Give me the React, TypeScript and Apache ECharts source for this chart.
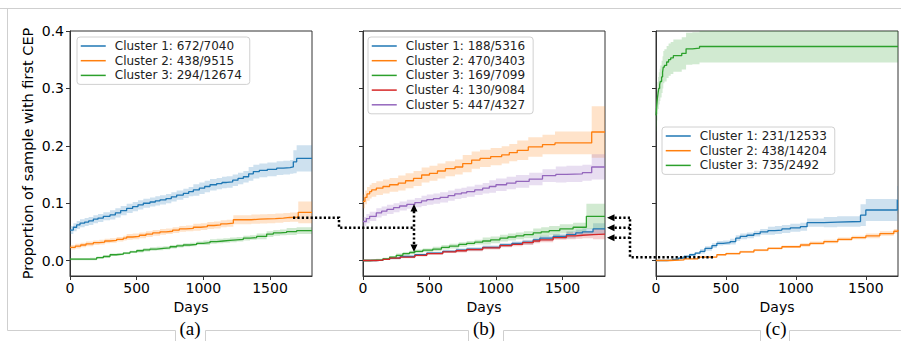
import React, { useEffect, useRef } from "react";
import * as echarts from "echarts";

// ---------- DATA ----------
const X_TICKS = [0, 500, 1000, 1500];
const Y_TICKS = [0, 0.1, 0.2, 0.3, 0.4];
const X_MAX = [1815, 1820, 1730];
const Y_MIN = -0.027;
const Y_MAX = 0.4;

// Panel (a)
const aNames = ["Cluster 1: 672/7040", "Cluster 2: 438/9515", "Cluster 3: 294/12674"];
const aDays1 = [0, 25, 50, 75, 110, 140, 175, 210, 250, 300, 340, 380, 425, 470, 510, 550, 600, 640, 675, 720, 760, 800, 850, 890, 925, 970, 1010, 1050, 1100, 1140, 1175, 1220, 1260, 1300, 1340, 1375, 1420, 1480, 1550, 1600, 1650, 1675, 1700, 1815];
const aVals1 = [0.053, 0.058, 0.062, 0.065, 0.067, 0.069, 0.072, 0.074, 0.077, 0.0795, 0.083, 0.087, 0.091, 0.094, 0.097, 0.0998, 0.102, 0.104, 0.1056, 0.108, 0.111, 0.114, 0.117, 0.120, 0.123, 0.126, 0.129, 0.132, 0.134, 0.136, 0.137, 0.140, 0.143, 0.146, 0.151, 0.155, 0.157, 0.159, 0.161, 0.162, 0.163, 0.172, 0.178, 0.178];
const aCi1 = [0.007, 0.007, 0.007, 0.007, 0.007, 0.007, 0.007, 0.007, 0.007, 0.008, 0.008, 0.008, 0.008, 0.008, 0.008, 0.008, 0.008, 0.008, 0.008, 0.008, 0.008, 0.008, 0.008, 0.008, 0.010, 0.010, 0.010, 0.010, 0.010, 0.010, 0.010, 0.010, 0.010, 0.010, 0.012, 0.012, 0.012, 0.012, 0.012, 0.012, 0.012, 0.020, 0.023, 0.023];
const aDays2 = [0, 40, 80, 120, 175, 220, 260, 300, 350, 400, 425, 470, 520, 570, 620, 675, 720, 770, 820, 870, 925, 980, 1030, 1080, 1130, 1175, 1225, 1300, 1360, 1425, 1480, 1540, 1600, 1650, 1712, 1815];
const aVals2 = [0.023, 0.025, 0.027, 0.029, 0.031, 0.032, 0.034, 0.035, 0.037, 0.039, 0.041, 0.042, 0.044, 0.046, 0.048, 0.050, 0.051, 0.053, 0.055, 0.056, 0.058, 0.059, 0.061, 0.062, 0.064, 0.065, 0.071, 0.071, 0.072, 0.0725, 0.073, 0.074, 0.075, 0.0755, 0.084, 0.084];
const aCi2 = [0.004, 0.004, 0.004, 0.004, 0.004, 0.004, 0.004, 0.004, 0.004, 0.004, 0.005, 0.005, 0.005, 0.005, 0.005, 0.005, 0.005, 0.005, 0.005, 0.005, 0.006, 0.006, 0.006, 0.006, 0.006, 0.006, 0.008, 0.008, 0.008, 0.008, 0.008, 0.008, 0.008, 0.008, 0.019, 0.019];
const aDays3 = [0, 150, 200, 250, 300, 350, 400, 450, 500, 550, 600, 650, 700, 750, 800, 850, 900, 950, 1000, 1050, 1100, 1150, 1200, 1250, 1300, 1350, 1400, 1475, 1525, 1575, 1625, 1700, 1815];
const aVals3 = [0.0024, 0.0026, 0.005, 0.007, 0.010, 0.011, 0.013, 0.015, 0.017, 0.0186, 0.020, 0.021, 0.022, 0.024, 0.0256, 0.027, 0.028, 0.030, 0.031, 0.033, 0.034, 0.035, 0.036, 0.037, 0.039, 0.040, 0.042, 0.046, 0.048, 0.049, 0.0505, 0.052, 0.052];
const aCi3 = [0.002, 0.002, 0.002, 0.002, 0.002, 0.002, 0.002, 0.002, 0.003, 0.003, 0.003, 0.003, 0.003, 0.003, 0.003, 0.003, 0.003, 0.003, 0.004, 0.004, 0.004, 0.004, 0.004, 0.004, 0.004, 0.004, 0.005, 0.005, 0.005, 0.005, 0.006, 0.006, 0.006];

// Panel (b)
const bNames = ["Cluster 1: 188/5316", "Cluster 2: 470/3403", "Cluster 3: 169/7099", "Cluster 4: 130/9084", "Cluster 5: 447/4327"];
const bDays1 = [0, 100, 150, 200, 280, 390, 480, 600, 700, 780, 900, 1030, 1120, 1200, 1280, 1330, 1430, 1530, 1600, 1650, 1730, 1820];
const bVals1 = [0, 0.0005, 0.002, 0.004, 0.007, 0.010, 0.013, 0.016, 0.018, 0.020, 0.023, 0.027, 0.030, 0.032, 0.036, 0.039, 0.042, 0.045, 0.048, 0.050, 0.055, 0.055];
const bCi1 = [0.001, 0.001, 0.001, 0.002, 0.002, 0.002, 0.002, 0.002, 0.003, 0.003, 0.003, 0.003, 0.003, 0.004, 0.004, 0.004, 0.004, 0.006, 0.006, 0.006, 0.010, 0.010];
const bDays2 = [0, 15, 30, 50, 65, 100, 150, 200, 265, 320, 380, 441, 500, 560, 620, 692, 750, 817, 880, 960, 1043, 1100, 1160, 1243, 1300, 1350, 1444, 1720, 1820];
const bVals2 = [0.103, 0.110, 0.116, 0.120, 0.123, 0.126, 0.129, 0.132, 0.135, 0.139, 0.143, 0.149, 0.152, 0.156, 0.160, 0.163, 0.169, 0.175, 0.178, 0.181, 0.184, 0.188, 0.192, 0.198, 0.198, 0.202, 0.205, 0.224, 0.224];
const bCi2 = [0.012, 0.012, 0.012, 0.012, 0.012, 0.012, 0.012, 0.012, 0.013, 0.013, 0.013, 0.013, 0.013, 0.013, 0.013, 0.013, 0.015, 0.015, 0.015, 0.015, 0.015, 0.015, 0.017, 0.017, 0.017, 0.017, 0.020, 0.045, 0.045];
const bDays3 = [0, 60, 100, 150, 200, 250, 300, 350, 390, 450, 525, 590, 650, 720, 780, 840, 900, 960, 1030, 1090, 1150, 1210, 1280, 1340, 1400, 1480, 1580, 1680, 1820];
const bVals3 = [0, 0.0005, 0.001, 0.003, 0.006, 0.009, 0.012, 0.014, 0.016, 0.018, 0.020, 0.023, 0.025, 0.028, 0.030, 0.032, 0.034, 0.036, 0.039, 0.041, 0.043, 0.045, 0.048, 0.050, 0.052, 0.055, 0.058, 0.077, 0.077];
const bCi3 = [0.002, 0.002, 0.002, 0.002, 0.002, 0.003, 0.003, 0.003, 0.003, 0.003, 0.004, 0.004, 0.004, 0.004, 0.004, 0.004, 0.006, 0.006, 0.006, 0.006, 0.006, 0.006, 0.008, 0.008, 0.008, 0.008, 0.008, 0.022, 0.022];
const bDays4 = [0, 100, 150, 200, 280, 390, 480, 600, 700, 780, 900, 1030, 1120, 1200, 1280, 1330, 1430, 1530, 1600, 1650, 1730, 1820];
const bVals4 = [0, 0.0005, 0.002, 0.004, 0.006, 0.009, 0.012, 0.015, 0.017, 0.019, 0.022, 0.026, 0.028, 0.031, 0.034, 0.036, 0.040, 0.043, 0.044, 0.045, 0.046, 0.046];
const bCi4 = [0.001, 0.001, 0.001, 0.002, 0.002, 0.002, 0.002, 0.002, 0.003, 0.003, 0.003, 0.003, 0.003, 0.004, 0.004, 0.004, 0.004, 0.006, 0.006, 0.006, 0.009, 0.009];
const bDays5 = [0, 25, 50, 100, 140, 180, 230, 275, 330, 390, 440, 480, 530, 580, 640, 690, 740, 780, 840, 900, 950, 1000, 1080, 1150, 1250, 1350, 1450, 1530, 1650, 1720, 1820];
const bVals5 = [0.068, 0.073, 0.077, 0.083, 0.086, 0.089, 0.092, 0.095, 0.098, 0.101, 0.104, 0.106, 0.108, 0.110, 0.113, 0.116, 0.118, 0.120, 0.123, 0.126, 0.129, 0.132, 0.135, 0.138, 0.142, 0.148, 0.150, 0.151, 0.153, 0.163, 0.163];
const bCi5 = [0.008, 0.008, 0.008, 0.008, 0.008, 0.008, 0.008, 0.008, 0.008, 0.008, 0.009, 0.009, 0.009, 0.009, 0.009, 0.009, 0.009, 0.009, 0.009, 0.009, 0.011, 0.011, 0.011, 0.011, 0.011, 0.011, 0.014, 0.014, 0.014, 0.022, 0.022];

// Panel (c)
const cNames = ["Cluster 1: 231/12533", "Cluster 2: 438/14204", "Cluster 3: 735/2492"];
const cDays1 = [0, 77, 120, 160, 200, 240, 280, 315, 350, 400, 435, 480, 530, 570, 602, 650, 700, 745, 800, 850, 900, 960, 1032, 1080, 1200, 1295, 1462, 1500, 1606, 1725, 1730];
const cVals1 = [0, 0.0005, 0.002, 0.004, 0.007, 0.010, 0.013, 0.016, 0.021, 0.026, 0.030, 0.031, 0.033, 0.039, 0.042, 0.044, 0.047, 0.050, 0.052, 0.053, 0.055, 0.057, 0.059, 0.066, 0.067, 0.068, 0.079, 0.088, 0.088, 0.106, 0.106];
const cCi1 = [0.001, 0.001, 0.001, 0.002, 0.002, 0.002, 0.002, 0.004, 0.004, 0.004, 0.004, 0.004, 0.005, 0.005, 0.005, 0.005, 0.005, 0.005, 0.007, 0.007, 0.007, 0.007, 0.007, 0.007, 0.009, 0.009, 0.019, 0.019, 0.019, 0.024, 0.024];
const cDays2 = [0, 100, 200, 300, 435, 500, 600, 700, 800, 900, 1032, 1100, 1200, 1300, 1400, 1500, 1600, 1700, 1730];
const cVals2 = [0, 0.001, 0.003, 0.006, 0.010, 0.012, 0.015, 0.018, 0.021, 0.024, 0.027, 0.030, 0.033, 0.037, 0.040, 0.043, 0.047, 0.051, 0.053];
const cCi2 = [0.001, 0.001, 0.001, 0.001, 0.001, 0.002, 0.002, 0.002, 0.002, 0.002, 0.003, 0.003, 0.003, 0.003, 0.003, 0.004, 0.004, 0.004, 0.004];
const cDays3 = [0, 3, 6, 10, 15, 20, 26, 31, 40, 47, 52, 60, 76, 90, 105, 124, 184, 215, 260, 311, 1730];
const cVals3 = [0.253, 0.262, 0.272, 0.283, 0.292, 0.300, 0.306, 0.312, 0.320, 0.328, 0.337, 0.340, 0.346, 0.350, 0.353, 0.357, 0.361, 0.369, 0.370, 0.373, 0.373];
const cCi3 = [0.028, 0.028, 0.028, 0.028, 0.028, 0.028, 0.028, 0.028, 0.028, 0.028, 0.028, 0.028, 0.028, 0.028, 0.028, 0.028, 0.028, 0.028, 0.028, 0.028, 0.028];

const COLORS = ["#1f77b4", "#ff7f0e", "#2ca02c", "#d62728", "#9467bd"];
const BANDS = ["rgba(31,119,180,0.22)", "rgba(255,127,14,0.22)", "rgba(44,160,44,0.22)", "rgba(214,39,40,0.22)", "rgba(148,103,189,0.22)"];

type Curve = { name: string; days: number[]; vals: number[]; ci: number[]; color: number };

const panels: Curve[][] = [
  [
    { name: aNames[0], days: aDays1, vals: aVals1, ci: aCi1, color: 0 },
    { name: aNames[1], days: aDays2, vals: aVals2, ci: aCi2, color: 1 },
    { name: aNames[2], days: aDays3, vals: aVals3, ci: aCi3, color: 2 },
  ],
  [
    { name: bNames[0], days: bDays1, vals: bVals1, ci: bCi1, color: 0 },
    { name: bNames[1], days: bDays2, vals: bVals2, ci: bCi2, color: 1 },
    { name: bNames[2], days: bDays3, vals: bVals3, ci: bCi3, color: 2 },
    { name: bNames[3], days: bDays4, vals: bVals4, ci: bCi4, color: 3 },
    { name: bNames[4], days: bDays5, vals: bVals5, ci: bCi5, color: 4 },
  ],
  [
    { name: cNames[0], days: cDays1, vals: cVals1, ci: cCi1, color: 0 },
    { name: cNames[1], days: cDays2, vals: cVals2, ci: cCi2, color: 1 },
    { name: cNames[2], days: cDays3, vals: cVals3, ci: cCi3, color: 2 },
  ],
];

const GRID_LEFT = [70, 363, 656];
const LEGEND_POS = [
  { left: 77, top: 37 },
  { left: 368, top: 37 },
  { left: 662, top: 127 },
];

const clampY = (v: number) => Math.max(Y_MIN, Math.min(Y_MAX, v));

function buildSeries() {
  const bands: any[] = [];
  const lines: any[] = [];
  panels.forEach((curves, p) => {
    curves.forEach((c) => {
      bands.push({
        type: "custom",
        xAxisIndex: p,
        yAxisIndex: p,
        silent: true,
        data: [[c.days[0], c.vals[0]]],
        z: 1,
        renderItem: (_params: any, api: any) => {
          const n = c.days.length;
          const pts: number[][] = [];
          for (let i = 0; i < n; i++) {
            const x0 = c.days[i];
            const x1 = i + 1 < n ? c.days[i + 1] : X_MAX[p];
            const hi = clampY(c.vals[i] + c.ci[i]);
            pts.push(api.coord([x0, hi]), api.coord([x1, hi]));
          }
          for (let i = n - 1; i >= 0; i--) {
            const x0 = c.days[i];
            const x1 = i + 1 < n ? c.days[i + 1] : X_MAX[p];
            const lo = clampY(c.vals[i] - c.ci[i]);
            pts.push(api.coord([x1, lo]), api.coord([x0, lo]));
          }
          return { type: "polygon", shape: { points: pts }, style: { fill: BANDS[c.color], stroke: null } };
        },
      });
      lines.push({
        type: "line",
        name: c.name,
        xAxisIndex: p,
        yAxisIndex: p,
        step: "end",
        symbol: "none",
        color: COLORS[c.color],
        lineStyle: { width: 1.3, color: COLORS[c.color] },
        data: c.days.map((d, i) => [d, c.vals[i]]),
        z: 3,
      });
    });
  });
  return [...bands, ...lines];
}

const dotted = { stroke: "#000", lineWidth: 2.5, lineDash: [2.2, 2.2], fill: null };
const gray = { stroke: "#cfcfcf", lineWidth: 1 };

function buildGraphic() {
  const g: any[] = [];
  g.push({ type: "line", shape: { x1: 0, y1: 8.5, x2: 901, y2: 8.5 }, style: gray, silent: true });
  g.push({ type: "line", shape: { x1: 7.5, y1: 8.5, x2: 7.5, y2: 330.5 }, style: gray, silent: true });
  const segs = [[7.5, 175.5], [205.5, 468.5], [503.5, 760.5], [789.5, 901]];
  segs.forEach(([a, b]) => g.push({ type: "line", shape: { x1: a, y1: 330.5, x2: b, y2: 330.5 }, style: gray, silent: true }));
  [175.5, 205.5, 468.5, 503.5, 760.5, 789.5].forEach((x) =>
    g.push({ type: "line", shape: { x1: x, y1: 330.5, x2: x, y2: 341 }, style: gray, silent: true })
  );
  [["(a)", 190], ["(b)", 484], ["(c)", 776]].forEach(([t, x]) =>
    g.push({
      type: "text",
      x: x as number,
      y: 328,
      style: { text: t as string, font: "19px 'Liberation Serif', serif", fill: "#000", align: "center", verticalAlign: "middle" },
      silent: true,
    })
  );
  g.push({
    type: "text",
    x: 28,
    y: 153.5,
    rotation: Math.PI / 2,
    style: { text: "Proportion of sample with first CEP", font: "14.5px 'DejaVu Sans'", fill: "#000", align: "center", verticalAlign: "middle" },
    silent: true,
  });
  g.push({ type: "polyline", shape: { points: [[293, 217.7], [339, 217.7], [339, 227.7], [414, 227.7]] }, style: dotted, z: 100, silent: true });
  g.push({ type: "line", shape: { x1: 414, y1: 211, x2: 414, y2: 245 }, style: dotted, z: 100, silent: true });
  g.push({ type: "polygon", shape: { points: [[414, 204], [410.5, 211.5], [417.5, 211.5]] }, style: { fill: "#000" }, z: 100, silent: true });
  g.push({ type: "polygon", shape: { points: [[414, 252], [410.5, 244.5], [417.5, 244.5]] }, style: { fill: "#000" }, z: 100, silent: true });
  g.push({ type: "polyline", shape: { points: [[713, 257.3], [630, 257.3], [630, 217.7]] }, style: dotted, z: 100, silent: true });
  [217.7, 227.7, 237.7].forEach((y) => {
    g.push({ type: "line", shape: { x1: 630, y1: y, x2: 614, y2: y }, style: dotted, z: 100, silent: true });
    g.push({ type: "polygon", shape: { points: [[607, y], [614.5, y - 3.5], [614.5, y + 3.5]] }, style: { fill: "#000" }, z: 100, silent: true });
  });
  return g;
}

function buildOption() {
  const axisColor = "#333";
  return {
    animation: false,
    textStyle: { fontFamily: "'DejaVu Sans'" },
    grid: GRID_LEFT.map((l) => ({ left: l, top: 31, width: 242, height: 245, show: true, borderColor: axisColor, borderWidth: 1, backgroundColor: "transparent" })),
    xAxis: [0, 1, 2].map((i) => ({
      type: "value",
      gridIndex: i,
      min: 0,
      max: X_MAX[i],
      splitLine: { show: false },
      axisLine: { show: true, onZero: false, lineStyle: { color: axisColor } },
      axisTick: { show: true, length: 4, customValues: X_TICKS, lineStyle: { color: axisColor } },
      axisLabel: { customValues: X_TICKS, fontSize: 14, color: "#000", margin: 5, fontFamily: "'DejaVu Sans'", formatter: (v: number) => String(v) },
      name: "Days",
      nameLocation: "middle",
      nameGap: 20,
      nameTextStyle: { fontSize: 14, color: "#000", fontFamily: "'DejaVu Sans'" },
    })),
    yAxis: [0, 1, 2].map((i) => ({
      type: "value",
      gridIndex: i,
      min: Y_MIN,
      max: Y_MAX,
      splitLine: { show: false },
      axisLine: { show: true, onZero: false, lineStyle: { color: axisColor } },
      axisTick: { show: true, length: 4, customValues: Y_TICKS, lineStyle: { color: axisColor } },
      axisLabel: {
        show: i === 0,
        customValues: Y_TICKS,
        fontSize: 14,
        color: "#000",
        margin: 6,
        fontFamily: "'DejaVu Sans'",
        formatter: (v: number) => v.toFixed(1),
      },
    })),
    legend: panels.map((curves, p) => ({
      data: curves.map((c) => c.name),
      orient: "vertical",
      left: LEGEND_POS[p].left,
      top: LEGEND_POS[p].top,
      selectedMode: false,
      itemWidth: 25,
      itemHeight: 14,
      itemGap: 2.7,
      padding: [3, 8, 3, 3],
      backgroundColor: "rgba(255,255,255,0.85)",
      borderColor: "#d0d0d0",
      borderWidth: 1,
      borderRadius: 3,
      itemStyle: { color: "rgba(0,0,0,0)", borderWidth: 0, opacity: 0 },
      lineStyle: { width: 1.5 },
      textStyle: { fontSize: 12, color: "#222", fontFamily: "'DejaVu Sans'", padding: [0, 0, 0, 4] },
      z: 10,
    })),
    series: buildSeries(),
    graphic: buildGraphic(),
  };
}

export default function App() {
  const ref = useRef<HTMLDivElement>(null);
  useEffect(() => {
    if (!ref.current) return;
    const chart = echarts.init(ref.current, null, { renderer: "svg" });
    chart.setOption(buildOption() as any);
    return () => chart.dispose();
  }, []);
  return <div ref={ref} style={{ position: "absolute", left: 0, top: 0, width: 901, height: 341, background: "#fff" }} />;
}
